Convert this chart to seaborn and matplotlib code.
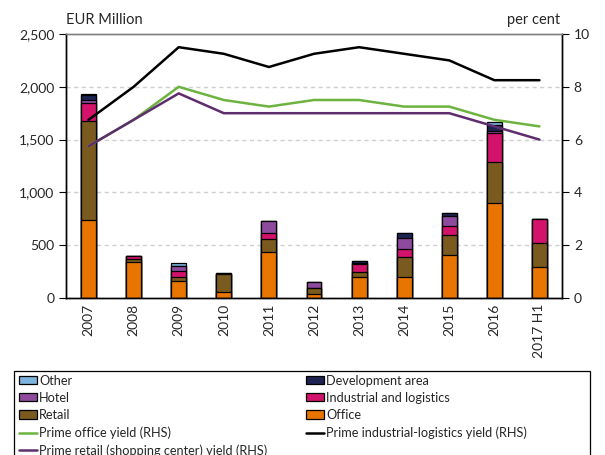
import matplotlib
matplotlib.use("Agg")
import matplotlib.pyplot as plt
import matplotlib.patches as mpatches
import matplotlib.lines as mlines
import numpy as np
import pandas as pd
import seaborn as sns

# data (EUR million, per cent)
years = ["2007", "2008", "2009", "2010", "2011", "2012", "2013", "2014", "2015", "2016", "2017 H1"]
office = [740, 340, 160, 60, 435, 35, 200, 200, 405, 900, 290]
retail = [940, 25, 38, 170, 120, 57, 50, 192, 190, 390, 228]
industrial = [165, 35, 62, 0, 65, 0, 72, 73, 85, 270, 230]
hotel = [30, 0, 47, 0, 110, 57, 12, 107, 98, 22, 0]
development = [45, 0, 0, 8, 0, 0, 16, 45, 28, 57, 0]
other = [10, 0, 25, 0, 0, 0, 0, 0, 0, 28, 0]

prime_office = [5.75, 6.75, 8.0, 7.5, 7.25, 7.5, 7.5, 7.25, 7.25, 6.75, 6.5]
prime_industrial = [6.75, 8.0, 9.5, 9.25, 8.75, 9.25, 9.5, 9.25, 9.0, 8.25, 8.25]
prime_retail = [5.75, 6.75, 7.75, 7.0, 7.0, 7.0, 7.0, 7.0, 7.0, 6.5, 6.0]

colors = {
    "Office": "#E87500",
    "Retail": "#7B5A1F",
    "Industrial and logistics": "#D3136B",
    "Hotel": "#8E4B9E",
    "Development area": "#1E2452",
    "Other": "#7DB3DC",
}

sns.set_theme(style="white")
plt.rcParams["font.family"] = ["Lato", "DejaVu Sans"]

df = pd.DataFrame({"year": years, "Office": office, "Retail": retail,
                   "Industrial and logistics": industrial, "Hotel": hotel,
                   "Development area": development, "Other": other})
stack_order = ["Office", "Retail", "Industrial and logistics", "Hotel", "Development area", "Other"]
cum = df[stack_order].cumsum(axis=1)

fig = plt.figure(figsize=(6.05, 4.55), dpi=100)
ax = fig.add_axes([66 / 605, 1 - 298 / 455, (562 - 66) / 605, (298 - 34) / 455])

# stacked bars: draw cumulative totals from the top segment down
for name in stack_order[::-1]:
    sns.barplot(x=df["year"], y=cum[name], color=colors[name], width=0.33,
                edgecolor="black", linewidth=0.9, saturation=1, ax=ax)

ax.set_ylim(0, 2500)
ax.set_xlim(-0.5, len(years) - 0.5)
ax.set_yticks([0, 500, 1000, 1500, 2000, 2500])
ax.set_yticklabels(["0", "500", "1,000", "1,500", "2,000", "2,500"], fontsize=10)
for v in [500, 1000, 1500, 2000]:
    ax.axhline(v, color="#d0d0d0", linestyle=(0, (3, 2.5)), linewidth=1, zorder=0)
ax.set_xlabel("")
ax.set_ylabel("")
ax.set_xticks(range(len(years)))
ax.set_xticklabels(years, rotation=90, fontsize=10)
ax.set_xticks(np.arange(-0.5, len(years), 1), minor=True)
ax.tick_params(axis="x", which="major", length=0, pad=4)
ax.tick_params(axis="x", which="minor", length=5, width=0.8, color="black", direction="out")
ax.tick_params(axis="y", length=5, width=0.8, color="black", direction="out", left=True)

ax2 = ax.twinx()
x = np.arange(len(years))
sns.lineplot(x=x, y=prime_office, color="#6DB33F", linewidth=1.8, ax=ax2)
sns.lineplot(x=x, y=prime_industrial, color="black", linewidth=1.8, ax=ax2)
sns.lineplot(x=x, y=prime_retail, color="#5E2D6E", linewidth=1.8, ax=ax2)
ax2.set_ylim(0, 10)
ax2.set_yticks([0, 2, 4, 6, 8, 10])
ax2.set_yticklabels(["0", "2", "4", "6", "8", "10"], fontsize=10)
ax2.tick_params(axis="y", length=5, width=0.8, color="black", direction="out", right=True)
ax2.set_xlim(-0.5, len(years) - 0.5)

for a in (ax, ax2):
    a.spines["left"].set_color("black")
    a.spines["right"].set_color("black")
    a.spines["bottom"].set_color("black")
    a.spines["top"].set_color("#808080")
    for s in a.spines.values():
        s.set_linewidth(1.0)

fig.text(66 / 605, 1 - 20 / 455, "EUR Million", fontsize=10.5, va="center", ha="left")
fig.text(560 / 605, 1 - 20 / 455, "per cent", fontsize=10.5, va="center", ha="right")

def patch(name):
    return mpatches.Patch(facecolor=colors[name], edgecolor="black", linewidth=0.9, label=name)

handles = [
    patch("Other"), patch("Hotel"), patch("Retail"),
    mlines.Line2D([], [], color="#6DB33F", linewidth=1.8, label="Prime office yield (RHS)"),
    mlines.Line2D([], [], color="#5E2D6E", linewidth=1.8, label="Prime retail (shopping center) yield (RHS)"),
    patch("Development area"), patch("Industrial and logistics"), patch("Office"),
    mlines.Line2D([], [], color="black", linewidth=1.8, label="Prime industrial-logistics yield (RHS)"),
]
leg = fig.legend(handles=handles, ncol=2, loc="upper left",
                 bbox_to_anchor=(16 / 605, 1 - 372 / 455), fontsize=9.2,
                 frameon=False, handlelength=1.45, handleheight=0.62,
                 handletextpad=0.15, labelspacing=0.41, columnspacing=3.0,
                 borderpad=0.2, borderaxespad=0)

# legend frame as in the source: fixed width box running off the bottom
frame = mpatches.Rectangle((14 / 605, -0.02), (590 - 14) / 605, (0.02 + 1 - 371 / 455),
                           transform=fig.transFigure, fill=False, edgecolor="black",
                           linewidth=0.9)
fig.add_artist(frame)

fig.savefig("out.png", dpi=100)
